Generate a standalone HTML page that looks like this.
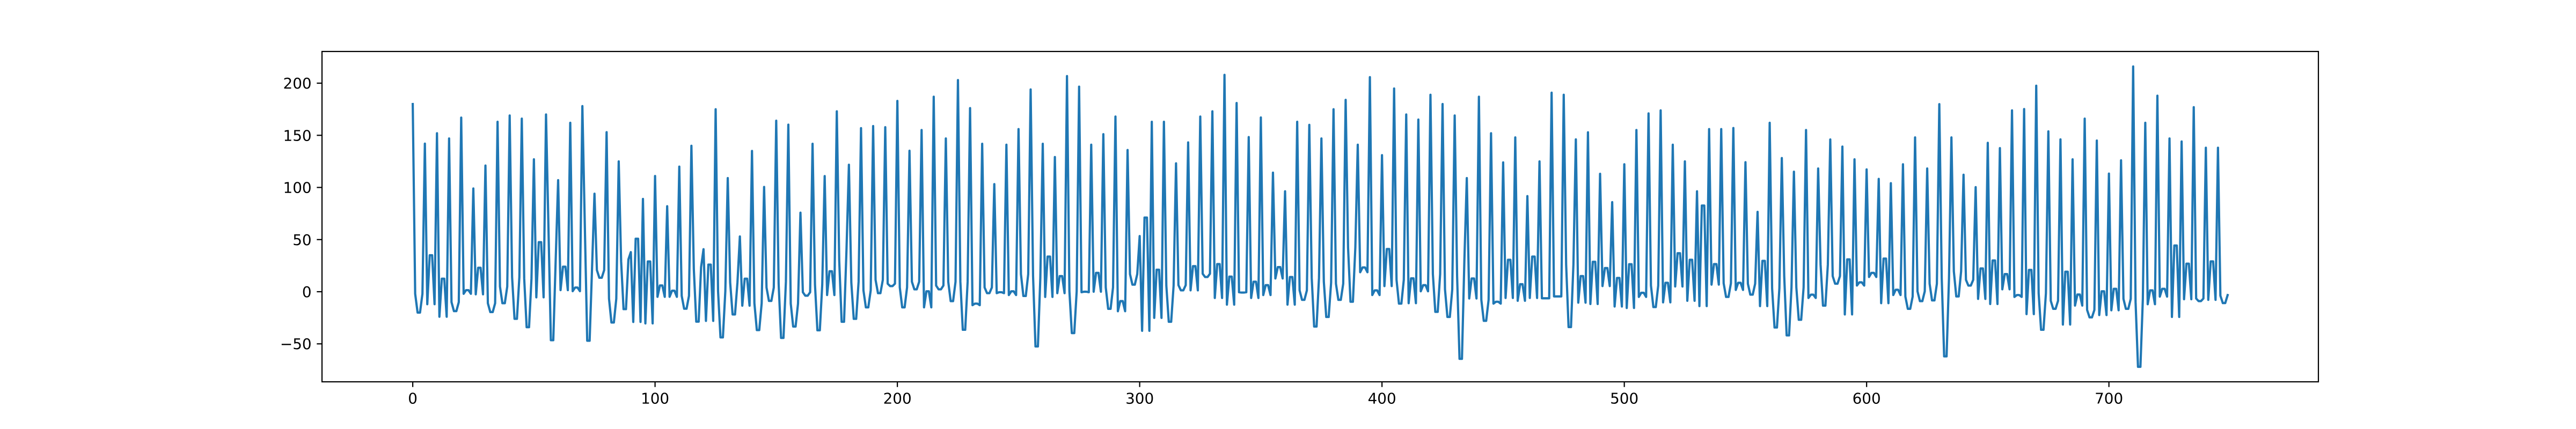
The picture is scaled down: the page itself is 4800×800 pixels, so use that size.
<!DOCTYPE html>
<html><head><meta charset="utf-8"><style>
html,body{margin:0;padding:0;background:#fff;}
svg{display:block;}
text{font-family:"DejaVu Sans","Liberation Sans",sans-serif;font-size:27.8px;fill:#000;}
</style></head><body>
<svg id="chart" width="4800" height="800" viewBox="0 0 4800 800" xmlns="http://www.w3.org/2000/svg">
<rect x="0" y="0" width="4800" height="800" fill="#fff"/>
<g id="marks"></g>
<g id="axes"></g>
</svg>
<script>
// Per-cycle values (each cycle = 5 samples: peak, shoulder, trough, trough, shoulder2)
const peaks = [180,142,152,147,167,99,121,163,169,166,127,170,107,162,178,94,153,125,38,89,111,82,120,140,40.8,175,109,53,135,100.5,
164,160.2,75.8,141.9,110.9,173,121.8,156.9,158.9,157.8,183,135.2,155.1,187,147,203,176.1,141.9,103.2,141,156,194,141.9,129.2,206.8,196.7,141,151.1,168,135.9,
53.4,163,163,123.1,143.2,168,173,208,181,148.3,167.1,114.2,96.3,163,160,147,175,184,141,205.8,131,194.9,170,165.1,188.9,180,169,109,187,152,
124,148,91.7,125,190.9,188.9,146.1,152.9,113.1,85.9,122.2,155.1,171,173.9,141,125,96.3,156,156,157,124.2,76.6,162,128.2,115.1,155.1,118.2,146,139.2,127,
117.3,108.2,104.1,122.2,148,118.2,179.9,148,112.2,100.3,142.8,137.7,173.9,175.2,197.6,153.8,146.1,127,166,145,113.3,126,216,162,188,147,144.1,177,138.1,138.1];
const shoulders = [-2,-12,-24,-10,-2,-2.5,-11,5,14,12.5,-5.4,62,1.5,0.5,65,20.7,-6.7,29,-29,-30.4,-4.9,-4.9,-4,21.7,-28,0.5,8.8,-13.4,-11,4,
7.7,-11.4,-0.5,6.8,-3.2,30,8.6,1.3,11.4,7.7,4.1,9.6,-15,5.9,9.6,9.6,-12.9,4.1,-1.4,-3.2,16.9,15,-5,-1.4,0.4,-0.5,0,4.1,-18.7,16.9,
-37.5,-25.1,5.9,6.3,1.3,17.2,-6,-12.4,-0.5,-6,-3.2,12.7,-12.4,1.3,13.2,9.6,7.7,42.4,18.7,-3.2,5.4,11.4,-11,0.4,16.9,2.3,15,-6.5,-7.8,-11.4,
-6,-8.7,-6,-6.3,-4.5,26,-10.5,-11.8,5.4,-14.2,-15.6,-5,5.9,-10.2,5,-8.7,-13.8,6.8,8.1,1.7,7.7,-13.8,3.2,15,4.1,-6,26,15,-21.8,5.9,
14.1,-11,-3.2,-4.7,0.4,7.7,13,19.6,11.4,-6.9,-11.8,2.3,-5,-21.5,-1.4,-8.7,-31.5,-13.3,-17.5,-22.4,-17.8,-6.9,-10,-12,-4.7,-24.2,-7.2,-6.5,-7.8,-3.8];
const troughs = [-20,35,12.5,-18.6,1.5,23,-19.5,-11,-26,-34,47.5,-46.5,24,4,-47,13.4,-29.5,-16.7,50.8,29,6,1,-16.3,-28.7,26,-43.8,-21.8,12.5,-36.8,-8.8,
-44.3,-33.4,-3.8,-37,19.6,-28.8,-26,-15,-1.4,5.4,-15,2.3,0.4,2.3,-9,-36.5,-11.4,-1.4,-0.5,0.4,-4.1,-52.5,33.7,15,-39.7,0,18.1,-16.4,-9,6.8,
71.1,21.1,-28.8,1.3,24.5,14.1,26.5,14.5,-0.8,9.6,6.3,23.6,14.1,-7.8,-33.4,-24.2,-7.8,-9.6,23.3,1.3,41,-11.4,12.8,6.3,-19.3,-24.2,-64.4,12.7,-27.9,-9.6,
30.6,7.2,33.7,-6.3,-4.5,-33.9,15,28.7,22.7,13.2,26.4,-1,-14.7,8.6,36.9,30.6,82.6,26.5,-5,8.6,-2.8,29.6,-34.3,-41.9,-26.9,-2.8,-13.3,7.7,31,9,
18.1,31.8,1.9,-16.4,-9,-8.3,-62,-4.5,5.9,22.3,30,16.9,-3.2,20.9,-36.5,-16.4,19.2,-2.7,-24.6,0.4,2.8,-16.4,-72,1.3,2.8,44.3,26.9,-9,29.1,-10.9];
const shoulders2 = [-2,-12,-24,-10,-2,-2.5,-11,5,14,12.5,-5.4,31,1.5,0.5,23,20.7,-6.7,31,-29,-30.4,-4.9,-4.9,-4,23.6,-28,0.5,8.8,-13.4,-11,4,
9.6,-11.4,-0.5,6.8,-3.2,40,9.6,1.3,11.4,7.7,4.1,9.6,-15,5.9,9.6,9.6,-12.9,4.1,-1.4,-3.2,16.9,13.2,-5,-1.4,0.4,-0.5,0,4.1,-18.7,16.9,
-37.5,-25.1,5.9,6.3,1.3,17.2,-6,-12.4,-0.5,-6,-3.2,12.7,-12.4,1.3,13.2,8.6,7.7,42.4,18.7,-3.2,5.4,11.4,-11,0.4,16.9,2.3,30,-6.5,-7.8,-11.4,
-6,-8.7,-6,-6.3,-4.5,26,-10.5,-11.8,5.4,-14.2,-15.6,-5,5.9,-10.2,5,-8.7,-13.8,6.8,8.1,1.7,7.7,-13.8,3.2,4.1,4.1,-6,26,15,-21.8,5.9,
14.1,-11,-3.2,-4.7,0.4,7.7,13,19.6,11.4,-6.9,-11.8,2.3,-5,-21.5,-1.4,-8.7,-31.5,-13.3,-17.5,-22.4,-17.8,-6.9,-6.9,-12,-4.7,-24.2,-7.2,-6.5,-7.8,-3.2];
const xTicks = [0,100,200,300,400,500,600,700];
const yTicks = [-50,0,50,100,150,200];

const NS = "http://www.w3.org/2000/svg";
const series = [];
for (let k = 0; k < peaks.length; k++) {
  series.push(peaks[k], shoulders[k], troughs[k], troughs[k], shoulders2[k]);
}
const L = 600, R = 4320, T = 96, B = 712;
const n = series.length;
const xmin = 0, xmax = n - 1, xpad = (xmax - xmin) * 0.05;
const ymin = Math.min(...series), ymax = Math.max(...series), ypad = (ymax - ymin) * 0.05;
const X = v => L + (v - (xmin - xpad)) / ((xmax + xpad) - (xmin - xpad)) * (R - L);
const Y = v => B - (v - (ymin - ypad)) / ((ymax + ypad) - (ymin - ypad)) * (B - T);

const marks = document.getElementById('marks');
const axes = document.getElementById('axes');
let d = '';
series.forEach((v, i) => { d += (i ? 'L' : 'M') + X(i).toFixed(2) + ' ' + Y(v).toFixed(2); });
const path = document.createElementNS(NS, 'path');
path.setAttribute('d', d);
path.setAttribute('fill', 'none');
path.setAttribute('stroke', '#1f77b4');
path.setAttribute('stroke-width', '4.17');
path.setAttribute('stroke-linejoin', 'round');
path.setAttribute('stroke-linecap', 'square');


marks.appendChild(path);

const frame = document.createElementNS(NS, 'rect');
frame.setAttribute('x', L); frame.setAttribute('y', T);
frame.setAttribute('width', R - L); frame.setAttribute('height', B - T);
frame.setAttribute('fill', 'none'); frame.setAttribute('stroke', '#000');
frame.setAttribute('stroke-width', '2.2');


axes.appendChild(frame);

xTicks.forEach(t => {
  const x = X(t);
  const ln = document.createElementNS(NS, 'line');
  ln.setAttribute('x1', x); ln.setAttribute('x2', x);
  ln.setAttribute('y1', B); ln.setAttribute('y2', B + 9.7);
  ln.setAttribute('stroke', '#000'); ln.setAttribute('stroke-width', '2.2');
  
  
  axes.appendChild(ln);
  const tx = document.createElementNS(NS, 'text');
  tx.setAttribute('x', x); tx.setAttribute('y', B + 19.4 + 21);
  tx.setAttribute('text-anchor', 'middle');
  tx.textContent = String(t);
  
  
  axes.appendChild(tx);
});
yTicks.forEach(t => {
  const y = Y(t);
  const ln = document.createElementNS(NS, 'line');
  ln.setAttribute('x1', L - 9.7); ln.setAttribute('x2', L);
  ln.setAttribute('y1', y); ln.setAttribute('y2', y);
  ln.setAttribute('stroke', '#000'); ln.setAttribute('stroke-width', '2.2');
  
  
  axes.appendChild(ln);
  const tx = document.createElementNS(NS, 'text');
  tx.setAttribute('x', L - 19.4); tx.setAttribute('y', y + 10);
  tx.setAttribute('text-anchor', 'end');
  tx.textContent = t < 0 ? '\u2212' + Math.abs(t) : String(t);
  
  
  axes.appendChild(tx);
});
</script>
</body></html>
